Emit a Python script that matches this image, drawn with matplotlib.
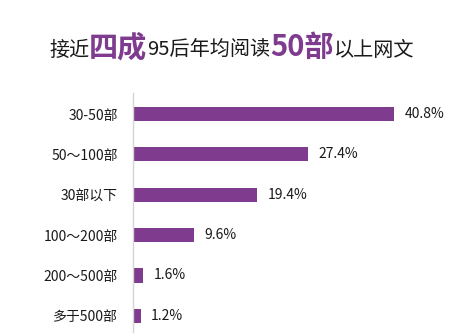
import matplotlib
matplotlib.use("Agg")
import matplotlib.pyplot as plt
from matplotlib.offsetbox import TextArea, HPacker, AnnotationBbox

plt.rcParams["font.family"] = ["Noto Sans CJK SC", "DejaVu Sans"]

# ── Daten ──────────────────────────────────────────────
categories = ["30-50部", "50～100部", "30部以下", "100～200部", "200～500部", "多于500部"]
values = [40.8, 27.4, 19.4, 9.6, 1.6, 1.2]
value_labels = ["40.8%", "27.4%", "19.4%", "9.6%", "1.6%", "1.2%"]

PURPLE = "#7f3b8e"
TEXT = "#1a1a1a"
LINE = "#d4d4d4"

fig = plt.figure(figsize=(4.73, 3.36), dpi=100)
fig.patch.set_facecolor("white")

ax = fig.add_axes([0.281, 0.012, 0.717, 0.711])
ypos = list(range(len(categories)))
ax.barh(ypos, values, height=0.35, color=PURPLE)
ax.set_xlim(0, 53)
ax.set_ylim(5.4, -0.52)

for y, v, lab in zip(ypos, values, value_labels):
    ax.annotate(lab, (v, y), xytext=(7.5, 0), textcoords="offset points",
                va="center", ha="left", fontsize=10, color=TEXT)

ax.set_yticks(ypos)
ax.set_yticklabels(categories, fontsize=10, color=TEXT)
ax.tick_params(axis="y", length=0, pad=11)
ax.set_xticks([])
for s in ["top", "right", "bottom"]:
    ax.spines[s].set_visible(False)
ax.spines["left"].set_color(LINE)
ax.spines["left"].set_linewidth(1)

# Titel mit gemischten Schriftgrößen
small = dict(fontsize=14.5, color=TEXT)
big = dict(fontsize=21, color=PURPLE, fontweight="bold")
parts = [("接近", small), ("四成", big), ("95后年均阅读", small),
         ("50部", big), ("以上网文", small)]
boxes = [TextArea(t, textprops=p) for t, p in parts]
pack = HPacker(children=boxes, align="baseline", pad=0, sep=0)
ab = AnnotationBbox(pack, (0.49, 0.86), xycoords="figure fraction",
                    frameon=False, box_alignment=(0.5, 0.5))
fig.add_artist(ab)

fig.savefig("out.png", dpi=100, facecolor="white")
